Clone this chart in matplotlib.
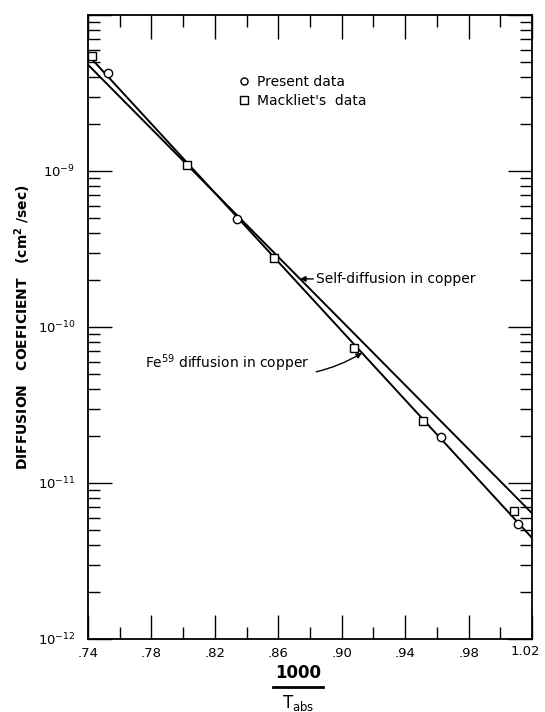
import numpy as np
import matplotlib.pyplot as plt
from matplotlib.lines import Line2D
from matplotlib.ticker import FixedLocator, NullFormatter, LogLocator

# data (x = 1000/T_abs, D in cm^2/sec)
present_x = [0.7524, 0.8337, 0.9624, 1.0112]
present_d = [4.26e-9, 4.95e-10, 1.96e-11, 5.47e-12]

mackliet_x = [0.7428, 0.8025, 0.8570, 0.9075, 0.9510, 1.0084]
mackliet_d = [5.5e-9, 1.09e-9, 2.78e-10, 7.38e-11, 2.5e-11, 6.57e-12]

# fitted lines, end points at x = .74 and 1.02
self_x = [0.74, 1.02]
self_d = [4.8e-9, 6.4e-12]
fe_x = [0.74, 1.02]
fe_d = [5.55e-9, 4.45e-12]

xticks = [0.74, 0.78, 0.82, 0.86, 0.90, 0.94, 0.98, 1.02]
xticklabels = ['.74', '.78', '.82', '.86', '.90', '.94', '.98', '1.02']
yticks = [1e-12, 1e-11, 1e-10, 1e-9]
yticklabels = ['10$^{-12}$', '10$^{-11}$', '10$^{-10}$', '10$^{-9}$']

plt.rcParams['font.family'] = ['DejaVu Sans']
plt.rcParams['mathtext.default'] = 'regular'

fig = plt.figure(figsize=(5.45, 7.12), dpi=100)
ax = fig.add_axes([88 / 545, 1 - 639 / 712, 444 / 545, 624 / 712])

ax.semilogy(self_x, self_d, color='black', lw=1.4)
ax.semilogy(fe_x, fe_d, color='black', lw=1.4)
ax.plot(present_x, present_d, 'o', mfc='white', mec='black', ms=6, mew=1.0,
        label='Present data', zorder=3)
ax.plot(mackliet_x, mackliet_d, 's', mfc='white', mec='black', ms=6, mew=1.0,
        label="Mackliet's  data", zorder=3)

ax.set_xlim(0.74, 1.02)
ax.set_ylim(1e-12, 1e-8)

# last x label is drawn by hand a bit to the left so it stays in the picture
ax.set_xticks(xticks)
ax.set_xticklabels(xticklabels[:-1] + [''], fontsize=9.5)
ax.annotate(xticklabels[-1], xy=(xticks[-1], 0), xycoords=('data', 'axes fraction'),
            xytext=(-5, -4.5), textcoords='offset points', ha='center', va='top',
            fontsize=9.5, annotation_clip=False)
ax.xaxis.set_minor_locator(FixedLocator([0.76, 0.80, 0.84, 0.88, 0.92, 0.96, 1.00]))
ax.set_yticks(yticks + [1e-8])
ax.set_yticklabels(yticklabels + [''], fontsize=9.5)
ax.yaxis.set_minor_locator(LogLocator(base=10, subs=np.arange(2, 10)))
ax.yaxis.set_minor_formatter(NullFormatter())

ax.tick_params(which='major', direction='in', length=17, width=1.0,
               top=True, right=True, pad=6)
ax.tick_params(which='minor', direction='in', length=8.5, width=1.0,
               top=True, right=True)
ax.tick_params(axis='y', which='major', pad=9)
for s in ax.spines.values():
    s.set_linewidth(1.3)

ax.set_ylabel('DIFFUSION   COEFICIENT   (cm$^2$ /sec)', fontsize=10,
              fontweight='bold')
ax.yaxis.set_label_coords(-0.124, 0.5)

# x label: 1000 over T_abs
fig.text(298 / 545, 1 - 673 / 712, '1000', ha='center', va='center',
         fontsize=12, fontweight='bold')
fig.add_artist(Line2D([273 / 545, 323 / 545], [1 - 687 / 712, 1 - 687 / 712],
                      color='black', lw=2))
fig.text(298 / 545, 1 - 703 / 712, 'T$_{abs}$', ha='center', va='center',
         fontsize=12)

ax.legend(loc='upper left', bbox_to_anchor=(0.325, 0.915), frameon=False,
          handlelength=0.7, handletextpad=0.6, borderpad=0, labelspacing=0.35,
          fontsize=10, markerscale=0.85)

# annotations
def line_val(xs, ds, x):
    ly = np.interp(x, xs, np.log10(ds))
    return 10 ** ly

xa = 0.8737
ax.annotate('Self-diffusion in copper', xy=(xa, line_val(self_x, self_d, xa)),
            xytext=(0.8838, line_val(self_x, self_d, xa) * 1.0),
            ha='left', va='center', fontsize=10,
            arrowprops=dict(arrowstyle='-|>', color='black', lw=1.0,
                            mutation_scale=8, shrinkA=0, shrinkB=0))

xb = 0.9128
ax.annotate('Fe$^{59}$ diffusion in copper', xy=(xb, line_val(fe_x, fe_d, xb)),
            xytext=(0.776, 5.87e-11), ha='left', va='center', fontsize=10,
            arrowprops=dict(arrowstyle='-|>', color='black', lw=1.0,
                            mutation_scale=8, shrinkA=3, shrinkB=0,
                            connectionstyle='arc3,rad=0.25'))

fig.savefig('out.png', dpi=100)
